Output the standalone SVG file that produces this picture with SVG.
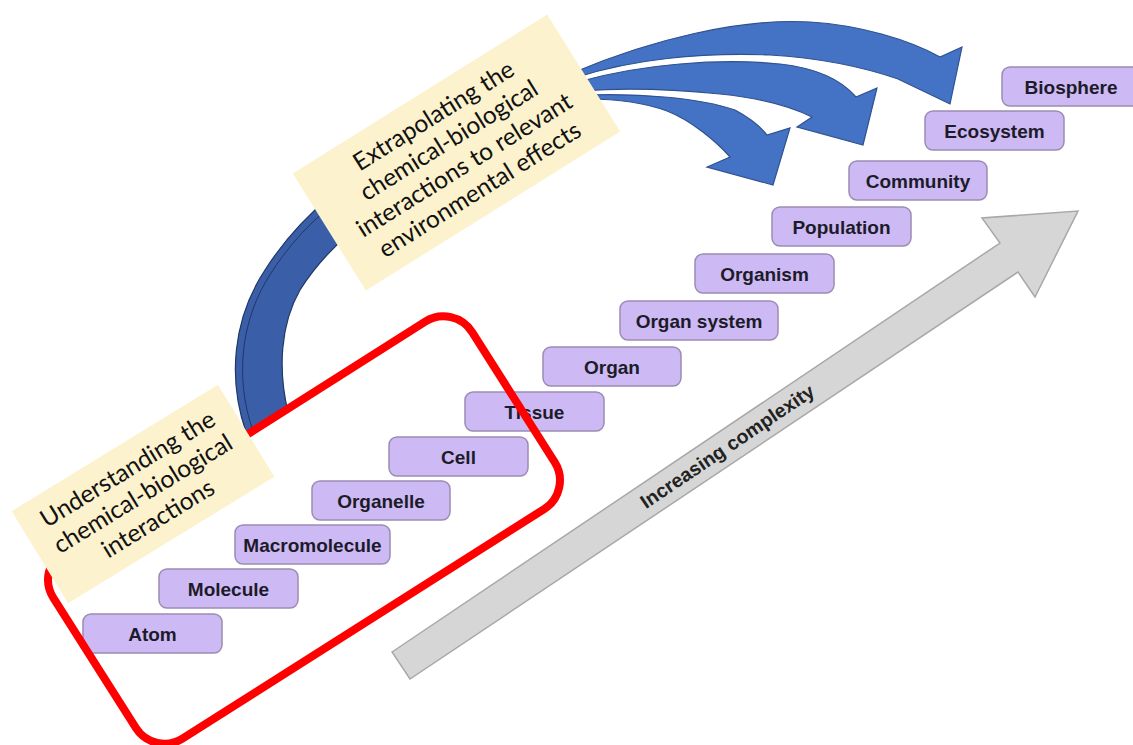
<svg xmlns="http://www.w3.org/2000/svg" width="1133" height="745" viewBox="0 0 1133 745">
<style>
.lv rect{fill:#cdb9f3;stroke:#9b8cb3;stroke-width:1.5}
.lv text{font-family:"Liberation Sans",Arial,sans-serif;font-weight:bold;font-size:19px;fill:#1c1b2a;text-anchor:middle}
.note rect{fill:#fcf2cd}
.note text{font-family:Lato,"Open Sans",sans-serif;font-size:24.5px;fill:#111;text-anchor:middle}
.arr{fill:#4472c4;stroke:#2f528f;stroke-width:1.2;stroke-linejoin:miter}
</style>
<rect width="1133" height="745" fill="#ffffff"/>

<g id="complexity-arrow">
<polygon points="392,652 1000,243 982,218 1078,211 1035,297 1018,272 410,679" fill="#d6d6d6" stroke="#a8a8a8" stroke-width="1.5"/>
<text transform="translate(731,452) rotate(-34)" font-family="Liberation Sans, Arial, sans-serif" font-weight="bold" font-size="19.5" fill="#222" text-anchor="middle">Increasing complexity</text>
</g>

<g id="levels">
<g id="atom" class="lv"><rect x="83" y="614" width="139" height="39" rx="8"/><text x="152.5" y="640.5">Atom</text></g>
<g id="molecule" class="lv"><rect x="159" y="569" width="139" height="39" rx="8"/><text x="228.5" y="595.5">Molecule</text></g>
<g id="macromolecule" class="lv"><rect x="235" y="525" width="155" height="39" rx="8"/><text x="312.5" y="551.5">Macromolecule</text></g>
<g id="organelle" class="lv"><rect x="312" y="481" width="138" height="39" rx="8"/><text x="381" y="507.5">Organelle</text></g>
<g id="cell" class="lv"><rect x="389" y="437" width="139" height="39" rx="8"/><text x="458.5" y="463.5">Cell</text></g>
<g id="tissue" class="lv"><rect x="465" y="392" width="139" height="39" rx="8"/><text x="534.5" y="418.5">Tissue</text></g>
<g id="organ" class="lv"><rect x="543" y="347" width="138" height="39" rx="8"/><text x="612" y="373.5">Organ</text></g>
<g id="organ-system" class="lv"><rect x="620" y="301" width="158" height="39" rx="8"/><text x="699" y="327.5">Organ system</text></g>
<g id="organism" class="lv"><rect x="695" y="254" width="139" height="39" rx="8"/><text x="764.5" y="280.5">Organism</text></g>
<g id="population" class="lv"><rect x="772" y="207" width="139" height="39" rx="8"/><text x="841.5" y="233.5">Population</text></g>
<g id="community" class="lv"><rect x="849" y="161" width="138" height="39" rx="8"/><text x="918" y="187.5">Community</text></g>
<g id="ecosystem" class="lv"><rect x="925" y="111" width="139" height="39" rx="8"/><text x="994.5" y="137.5">Ecosystem</text></g>
<g id="biosphere" class="lv"><rect x="1002" y="67" width="139" height="39" rx="8"/><text x="1071" y="93.5">Biosphere</text></g>
</g>

<g id="connectors">
<path d="M 246,432 C 228,380 232,320 265,270 C 300,215 350,175 410,145 L 430,178 C 370,210 325,250 300,290 C 280,325 278,370 288,412 Z" fill="#3b5ea8" stroke="#203864" stroke-width="1.2"/>
<path d="M 252,428 C 236,380 239,322 271,273 C 300,228 340,192 400,162" fill="none" stroke="#203864" stroke-width="1"/>
<path class="arr" d="M 575,72 C 650,40 740,18 810,22 C 860,25 910,40 940,57 L 962,47 L 950,104 L 898,79 C 860,66 820,58 770,55 C 700,52 630,60 578,77 Z"/>
<path class="arr" d="M 578,82 C 640,64 720,58 780,64 C 815,68 840,78 856,97 L 877,88 L 863,145 L 797,127 L 812,117 C 790,106 760,98 720,94 C 670,89 620,88 582,91 Z"/>
<path class="arr" d="M 586,95 C 640,93 700,98 735,110 C 750,118 760,126 767,135 L 790,128 L 773,185 L 707,167 L 730,157 C 715,140 690,120 667,111 C 645,103 620,99 588,99 Z"/>
</g>

<g id="focus-frame">
<rect x="-248" y="-111" width="496" height="222" rx="34" transform="translate(304,530) rotate(-32.4)" fill="none" stroke="#ff0000" stroke-width="8"/>
</g>

<g id="note-understanding" class="note" transform="translate(143,494) rotate(-31.5)">
<rect x="-121" y="-54" width="242" height="108"/>
<text x="0" y="-21">Understanding the</text>
<text x="0" y="8">chemical-biological</text>
<text x="0" y="37">interactions</text>
</g>

<g id="note-extrapolating" class="note" transform="translate(456.5,152.5) rotate(-32)">
<rect x="-150" y="-69" width="300" height="138"/>
<text x="0" y="-35">Extrapolating the</text>
<text x="0" y="-6">chemical-biological</text>
<text x="0" y="23">interactions to relevant</text>
<text x="0" y="52">environmental effects</text>
</g>
</svg>
